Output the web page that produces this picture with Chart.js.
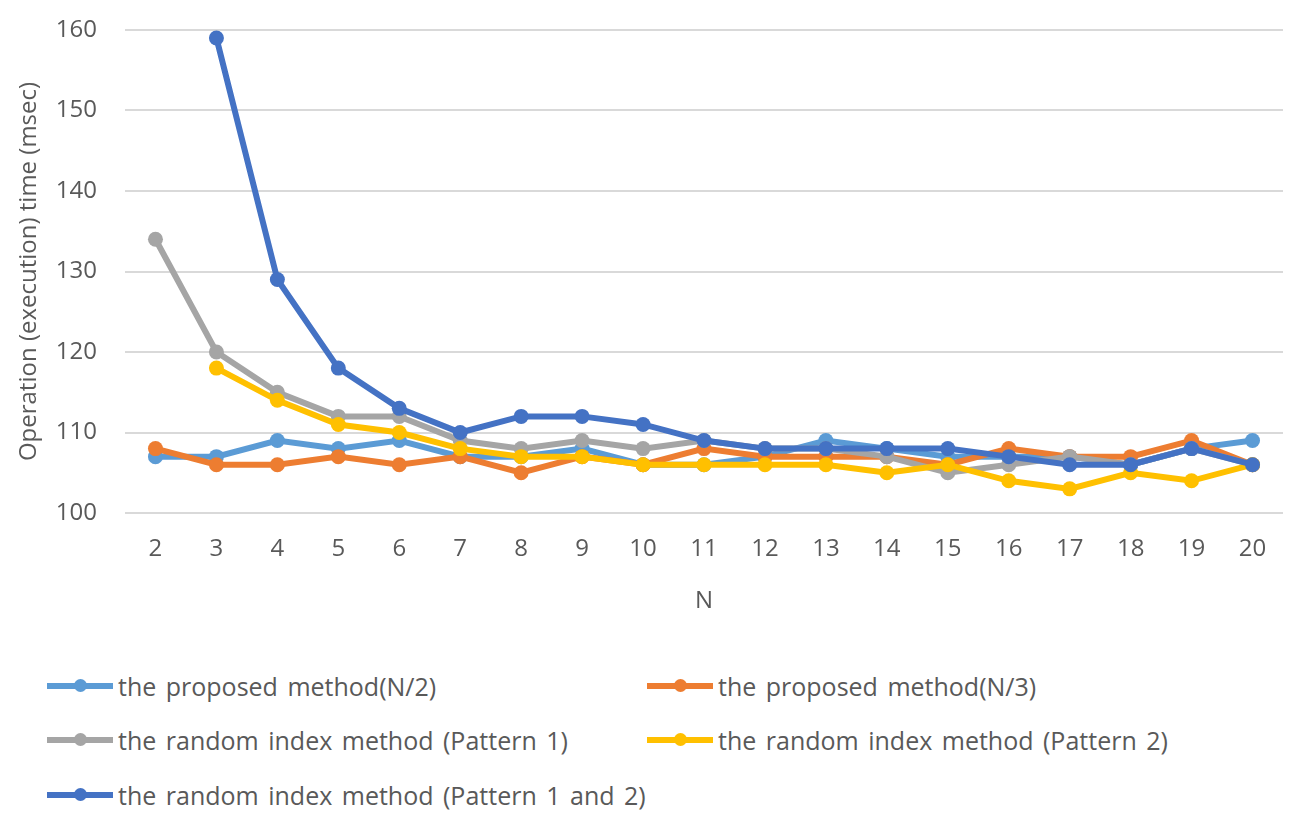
<!DOCTYPE html>
<html>
<head>
<meta charset="utf-8">
<title>Operation time by N</title>
<script src="https://cdn.jsdelivr.net/npm/chart.js@4.4.1/dist/chart.umd.min.js"></script>
<style>
  body {
    margin: 0;
    background: #ffffff;
    font-family: "Open Sans", sans-serif;
  }

  #wrap {
    position: relative;
    width: 1296px;
    height: 822px;
  }

  #chartBox {
    position: absolute;
    left: 0;
    top: 0;
    width: 1296px;
    height: 620px;
  }

  .legend-item {
    position: absolute;
    display: flex;
    align-items: center;
    height: 40px;
    color: #595959;
    font-size: 25px;
    word-spacing: 3px;
    white-space: nowrap;
  }

  .legend-sample {
    position: relative;
    width: 66px;
    height: 6px;
    margin-right: 5px;
  }

  .legend-dot {
    position: absolute;
    left: 27px;
    top: -4px;
    width: 13px;
    height: 13px;
    border-radius: 50%;
  }
</style>
</head>
<body>
<div id="wrap">
  <div id="chartBox">
    <canvas id="timeChart"></canvas>
  </div>
  <div id="legendBox"></div>
</div>

<script>
const nLabels = [
  "2", "3", "4", "5", "6", "7", "8", "9", "10", "11",
  "12", "13", "14", "15", "16", "17", "18", "19", "20"
];

const yTicks = [100, 110, 120, 130, 140, 150, 160];

const seriesNames = [
  "the proposed method(N/2)",
  "the proposed method(N/3)",
  "the random index method (Pattern 1)",
  "the random index method (Pattern 2)",
  "the random index method (Pattern 1 and 2)"
];

const proposedN2 =
  [107, 107, 109, 108, 109, 107, 107, 108, 106, 106, 107, 109, 108, 107, 107, 107, 106, 108, 109];

const proposedN3 =
  [108, 106, 106, 107, 106, 107, 105, 107, 106, 108, 107, 107, 107, 106, 108, 107, 107, 109, 106];

const randomP1 =
  [134, 120, 115, 112, 112, 109, 108, 109, 108, 109, 108, 108, 107, 105, 106, 107, 106, 108, 106];

const randomP2 =
  [null, 118, 114, 111, 110, 108, 107, 107, 106, 106, 106, 106, 105, 106, 104, 103, 105, 104, 106];

const randomP12 =
  [null, 159, 129, 118, 113, 110, 112, 112, 111, 109, 108, 108, 108, 108, 107, 106, 106, 108, 106];

const seriesColors = ["#5B9BD5", "#ED7D31", "#A5A5A5", "#FFC000", "#4472C4"];

const seriesData = [proposedN2, proposedN3, randomP1, randomP2, randomP12];

const textColor = "#595959";
const gridColor = "#D9D9D9";
const fontFamily = "'Open Sans', sans-serif";

// legend slots, two columns like the office layout
const legendSlots = [
  { x: 47, y: 686 },
  { x: 647, y: 686 },
  { x: 47, y: 740 },
  { x: 647, y: 740 },
  { x: 47, y: 795 }
];

function buildDatasets() {
  return seriesData.map((values, i) => ({
    label: seriesNames[i],
    data: values,
    borderColor: seriesColors[i],
    backgroundColor: seriesColors[i],
    borderWidth: 6,
    pointRadius: 7.5,
    pointHoverRadius: 7.5,
    pointBorderWidth: 0,
    tension: 0,
    spanGaps: false,
    // excel draws later series on top
    order: seriesData.length - 1 - i
  }));
}

const htmlLegend = {
  id: "htmlLegend",
  afterUpdate(chart) {
    const box = document.getElementById("legendBox");
    box.innerHTML = "";

    chart.data.datasets.forEach((ds, i) => {
      const slot = legendSlots[i];
      const item = document.createElement("div");
      item.className = "legend-item";
      item.style.left = slot.x + "px";
      item.style.top = (slot.y - 20) + "px";

      const sample = document.createElement("div");
      sample.className = "legend-sample";
      sample.style.background = ds.borderColor;

      const dot = document.createElement("div");
      dot.className = "legend-dot";
      dot.style.background = ds.borderColor;
      sample.appendChild(dot);

      const label = document.createElement("span");
      label.textContent = ds.label;

      item.appendChild(sample);
      item.appendChild(label);
      box.appendChild(item);
    });
  }
};

const canvas = document.getElementById("timeChart");

const timeChart = new Chart(canvas, {
  type: "line",
  data: {
    labels: nLabels,
    datasets: buildDatasets()
  },
  options: {
    responsive: true,
    maintainAspectRatio: false,
    animation: false,
    layout: {
      padding: { left: 0, top: 30, right: 13, bottom: 0 }
    },
    plugins: {
      legend: { display: false },
      tooltip: { enabled: false }
    },
    scales: {
      x: {
        type: "category",
        offset: true,
        grid: { display: false, drawTicks: false },
        border: { display: false },
        ticks: {
          color: textColor,
          padding: 22,
          maxRotation: 0,
          autoSkip: false,
          font: { family: fontFamily, size: 24 }
        },
        title: {
          display: true,
          text: "N",
          color: textColor,
          padding: { top: 4, bottom: 4 },
          font: { family: fontFamily, size: 24 }
        },
        afterFit: s => { s.height = 107; }
      },
      y: {
        min: yTicks[0],
        max: yTicks[yTicks.length - 1],
        afterBuildTicks: s => {
          s.ticks = yTicks.map(v => ({ value: v }));
        },
        grid: {
          color: gridColor,
          lineWidth: 2,
          drawTicks: false
        },
        border: { display: false },
        ticks: {
          color: textColor,
          padding: 28,
          font: { family: fontFamily, size: 24 }
        },
        title: {
          display: true,
          text: "Operation (execution) time (msec)",
          color: textColor,
          padding: { top: 15, bottom: 4 },
          font: { family: fontFamily, size: 24 }
        },
        afterFit: s => {
          s.width = 125;
          // tick padding should not push the plot top down
          s.paddingTop = 0;
          s.paddingBottom = 0;
        }
      }
    }
  },
  plugins: [htmlLegend]
});
</script>
</body>
</html>
